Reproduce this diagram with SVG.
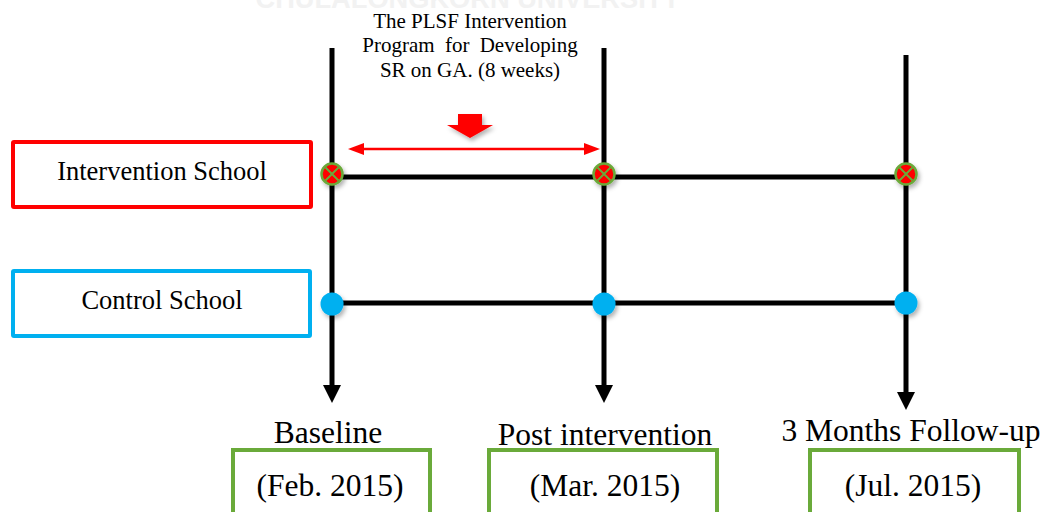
<svg xmlns="http://www.w3.org/2000/svg" width="1050" height="512" viewBox="0 0 1050 512">
<style>
.t{font-family:"Liberation Serif","Times New Roman",serif;fill:#000}
.axis{stroke:#000;stroke-width:5;fill:none}
.box{fill:#fff;stroke-width:4}
.green{fill:#fff;stroke:#6aaa3a;stroke-width:4}
</style>
<defs>
<filter id="sh" x="-50%" y="-50%" width="200%" height="200%">
<feDropShadow dx="2" dy="3" stdDeviation="2" flood-color="#000" flood-opacity="0.3"/>
</filter>
<g id="xmark">
<circle r="10.5" fill="#ff0000" stroke="#6aaa3a" stroke-width="2.5"/>
<path d="M-6.5,-6.5 L6.5,6.5 M6.5,-6.5 L-6.5,6.5" stroke="#6aaa3a" stroke-width="2"/>
</g>
</defs>
<rect width="1050" height="512" fill="#fff"/>
<text x="468" y="8" text-anchor="middle" font-family="Liberation Sans,Arial,sans-serif" font-weight="bold" font-size="28" fill="#f2f2f2" textLength="425" lengthAdjust="spacingAndGlyphs">CHULALONGKORN UNIVERSITY</text>

<g id="connectors">
<line class="axis" x1="332" y1="48" x2="332" y2="386"/>
<path d="M323,385 L341,385 L332,403 Z" fill="#000"/>
<line class="axis" x1="604" y1="48" x2="604" y2="386"/>
<path d="M595,385 L613,385 L604,403 Z" fill="#000"/>
<line class="axis" x1="906" y1="55" x2="906" y2="393"/>
<path d="M897,392 L915,392 L906,410 Z" fill="#000"/>
<line class="axis" x1="332" y1="177" x2="906" y2="177"/>
<line class="axis" x1="332" y1="303" x2="906" y2="303"/>
<line x1="360" y1="149" x2="588" y2="149" stroke="#ff0000" stroke-width="2.5"/>
<path d="M348,149 L364,143 L364,155 Z" fill="#ff0000"/>
<path d="M600,149 L584,143 L584,155 Z" fill="#ff0000"/>
<path d="M458,114 L482,114 L482,125 L493,125 L470,138 L447,125 L458,125 Z" fill="#ff0000" filter="url(#sh)"/>
</g>

<g id="program-label">
<text class="t" font-size="21" text-anchor="middle" x="470" y="28">The PLSF Intervention</text>
<text class="t" font-size="21" text-anchor="middle" x="470" y="52" word-spacing="5">Program for Developing</text>
<text class="t" font-size="21" text-anchor="middle" x="470" y="77">SR on GA. (8 weeks)</text>
</g>

<g id="intervention-school">
<rect class="box" x="13" y="142" width="298" height="65" stroke="#ff0000" rx="1"/>
<text class="t" font-size="26.5" text-anchor="middle" x="162" y="180">Intervention School</text>
</g>
<g id="control-school">
<rect class="box" x="13" y="271" width="297" height="65" stroke="#00b0f0" rx="1"/>
<text class="t" font-size="26.5" text-anchor="middle" x="162" y="309">Control School</text>
</g>

<g id="markers-intervention" filter="url(#sh)">
<use href="#xmark" x="332" y="174"/>
<use href="#xmark" x="604" y="174"/>
<use href="#xmark" x="906" y="174"/>
</g>
<g id="markers-control" filter="url(#sh)">
<circle cx="332" cy="304" r="11.5" fill="#00b0f0"/>
<circle cx="604" cy="304" r="11.5" fill="#00b0f0"/>
<circle cx="906" cy="303" r="11.5" fill="#00b0f0"/>
</g>

<g id="baseline">
<text class="t" font-size="31.5" text-anchor="middle" x="328" y="443">Baseline</text>
<rect class="green" x="233" y="450" width="197" height="70"/>
<text class="t" font-size="31.5" text-anchor="middle" x="330" y="496">(Feb. 2015)</text>
</g>
<g id="post-intervention">
<text class="t" font-size="31.5" text-anchor="middle" x="605" y="445">Post intervention</text>
<rect class="green" x="489" y="450" width="228" height="70"/>
<text class="t" font-size="31.5" text-anchor="middle" x="605" y="496">(Mar. 2015)</text>
</g>
<g id="follow-up">
<text class="t" font-size="31.5" text-anchor="middle" x="911" y="441">3 Months Follow-up</text>
<rect class="green" x="810" y="450" width="209" height="70"/>
<text class="t" font-size="31.5" text-anchor="middle" x="913" y="496">(Jul. 2015)</text>
</g>
</svg>
